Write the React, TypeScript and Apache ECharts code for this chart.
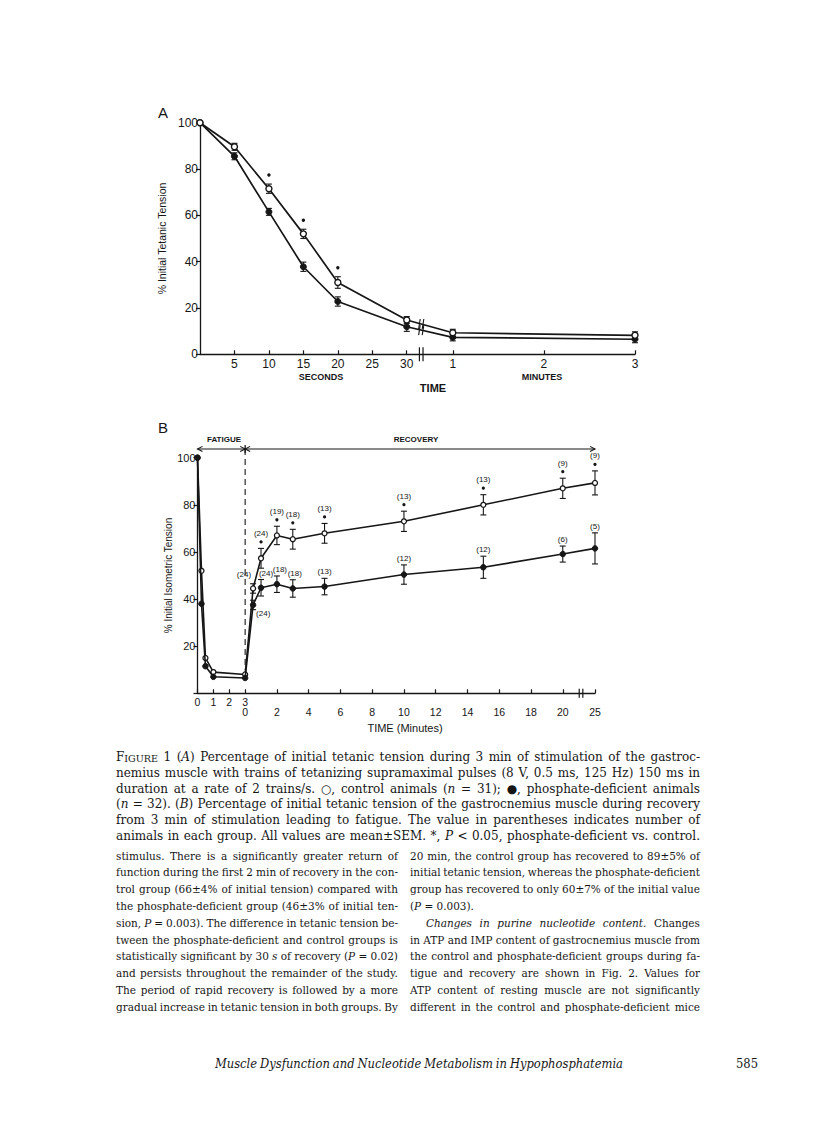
import React, { useEffect, useRef } from 'react';
import * as echarts from 'echarts';

// ---------------- DATA ----------------
// Panel A: time in seconds
const A_TIMES_S = [0, 5, 10, 15, 20, 30, 60, 180];
const A_CONTROL = [100, 89.6, 71.5, 52, 31, 14.8, 9.3, 8.2];
const A_CONTROL_SEM = [0, 1.5, 2, 2, 2.5, 1.5, 1.5, 1.5];
const A_DEFICIENT = [100, 85.5, 61.5, 37.8, 22.8, 11.9, 7.3, 6.5];
const A_DEFICIENT_SEM = [0, 1.5, 1.5, 2, 2, 2, 1.5, 1.5];
const A_SIGNIFICANT = [0, 0, 1, 1, 1, 0, 0, 0];
const A_SEC_TICKS = [5, 10, 15, 20, 25, 30];
const A_MIN_TICKS = [1, 2, 3];

// Panel B: fatigue (minutes of stimulation) then recovery (minutes)
const B_FATIGUE_MIN = [0, 0.25, 0.5, 1, 3];
const B_FATIGUE_CONTROL = [100, 52, 15, 9, 8];
const B_FATIGUE_DEFICIENT = [100, 38, 11.5, 7, 6.5];
const B_RECOVERY_MIN = [0.5, 1, 2, 3, 5, 10, 15, 20, 25];
const B_RECOVERY_CONTROL = [44.5, 57.3, 67, 65.4, 67.9, 73, 80, 87, 89.3];
const B_RECOVERY_CONTROL_SEM = [2, 4.2, 3.9, 4.2, 4.2, 4.3, 4.3, 4.3, 5.1];
const B_RECOVERY_DEFICIENT = [37.5, 44.8, 46.3, 44.5, 45.3, 50.4, 53.5, 59.1, 61.5];
const B_RECOVERY_DEFICIENT_SEM = [2, 3.5, 3.5, 3.7, 3.5, 4.1, 4.7, 3.4, 6.6];
const B_N_CONTROL = [24, 24, 19, 18, 13, 13, 13, 9, 9];
const B_N_DEFICIENT = [24, 24, 18, 18, 13, 12, 12, 6, 5];
const B_SIGNIFICANT = [0, 1, 1, 1, 1, 1, 1, 1, 1];
const B_FATIGUE_TICKS = [0, 1, 2, 3];
const B_RECOVERY_TICKS = [0, 2, 4, 6, 8, 10, 12, 14, 16, 18, 20, 25];

// ---------------- TEXT ----------------
const CAPTION = [
  '^FIGURE 1 (_A_) Percentage of initial tetanic tension during 3 min of stimulation of the gastroc-',
  'nemius muscle with trains of tetanizing supramaximal pulses (8 V, 0.5 ms, 125 Hz) 150 ms in',
  'duration at a rate of 2 trains/s. ○, control animals (_n_ = 31); ●, phosphate-deficient animals',
  '(_n_ = 32). (_B_) Percentage of initial tetanic tension of the gastrocnemius muscle during recovery',
  'from 3 min of stimulation leading to fatigue. The value in parentheses indicates number of',
  'animals in each group. All values are mean±SEM. *, _P_ < 0.05, phosphate-deficient vs. control.',
];
const BODY_LEFT = [
  'stimulus. There is a significantly greater return of',
  'function during the first 2 min of recovery in the con-',
  'trol group (66±4% of initial tension) compared with',
  'the phosphate-deficient group (46±3% of initial ten-',
  'sion, _P_ = 0.003). The difference in tetanic tension be-',
  'tween the phosphate-deficient and control groups is',
  'statistically significant by 30 _s_ of recovery (_P_ = 0.02)',
  'and persists throughout the remainder of the study.',
  'The period of rapid recovery is followed by a more',
  'gradual increase in tetanic tension in both groups. By',
];
const BODY_RIGHT = [
  '20 min, the control group has recovered to 89±5% of',
  'initial tetanic tension, whereas the phosphate-deficient',
  'group has recovered to only 60±7% of the initial value',
  '(_P_ = 0.003).¶',
  '>_Changes in purine nucleotide content._ Changes',
  'in ATP and IMP content of gastrocnemius muscle from',
  'the control and phosphate-deficient groups during fa-',
  'tigue and recovery are shown in Fig. 2. Values for',
  'ATP content of resting muscle are not significantly',
  'different in the control and phosphate-deficient mice',
];
const FOOTER = '_Muscle Dysfunction and Nucleotide Metabolism in Hypophosphatemia_';
const PAGE_NO = '585';

// ---------------- LAYOUT ----------------
const INK = '#161616';
const SERIF = 'DejaVu Serif';
const SANS = 'Liberation Sans';

const A_FIRST_MIN = 36.68;
const A_UNITS_PER_MIN = 13.22;
const aX = (sec: number) => (sec <= 30 ? sec : A_FIRST_MIN + (sec / 60 - 1) * A_UNITS_PER_MIN);
const A_XMAX = aX(180);
const A_BREAK = 32.1;

const bRecX = (t: number) => (t <= 20 ? 3 + t : 23 + (t - 20) * 0.406);
const B_XMAX = bRecX(25);
const B_BREAK = 24.15;
const B_HEADER = 103.7;
const B_PLACE_CONTROL = ['left', 'top', 'top', 'top', 'top', 'top', 'top', 'top', 'top'];
const B_PLACE_DEFICIENT = ['belowRight', 'top', 'top', 'top', 'top', 'top', 'top', 'top', 'top'];
const B_DX_DEFICIENT = [0, 5, 3, 2, 0, 0, 0, 0, 0];

// ---------------- text layout helpers ----------------
let mctx: CanvasRenderingContext2D | null = null;
function tw(t: string, size: number, it: boolean) {
  if (!mctx) mctx = document.createElement('canvas').getContext('2d');
  mctx!.font = `${it ? 'italic ' : ''}${size}px "${SERIF}"`;
  return mctx!.measureText(t).width;
}
type Seg = { t: string; it: boolean; small: boolean };
function parseWord(w: string, st: { it: boolean }): Seg[] {
  let small = false;
  if (w.startsWith('^')) { small = true; w = w.slice(1); }
  const segs: Seg[] = [];
  let cur = '';
  for (const ch of w) {
    if (ch === '_') {
      if (cur) segs.push({ t: cur, it: st.it, small: false });
      cur = '';
      st.it = !st.it;
    } else cur += ch;
  }
  if (cur) segs.push({ t: cur, it: st.it, small: false });
  if (small && segs.length) {
    const s = segs[0].t;
    return [{ t: s[0], it: false, small: false }, { t: s.slice(1), it: false, small: true }];
  }
  return segs;
}
// Lays out justified lines; glyphs are condensed horizontally (scaleX) when needed to fit the measure.
function layoutBlock(lines: string[], x0: number, x1: number, y0: number, dy: number, size: number, indent: number, minSpace = 0.8) {
  const parsed = lines.map((raw) => {
    let s = raw;
    let ragged = false;
    let ind = 0;
    if (s.endsWith('¶')) { ragged = true; s = s.slice(0, -1); }
    if (s.startsWith('>')) { ind = indent; s = s.slice(1); }
    const st = { it: false };
    const words = s.split(' ').filter((w) => w).map((w) => parseWord(w, st));
    return { words, ragged, ind };
  });
  const segSize = (g: Seg) => (g.small ? size * 0.8 : size);
  const wordW = (w: Seg[]) => w.reduce((a, g) => a + tw(g.t, segSize(g), g.it), 0);
  const sw = tw(' ', size, false);
  let maxRatio = 0;
  for (const L of parsed) {
    if (L.ragged) continue;
    const nat = L.words.reduce((a, w) => a + wordW(w), 0) + sw * minSpace * (L.words.length - 1);
    maxRatio = Math.max(maxRatio, nat / (x1 - x0 - L.ind));
  }
  const sx = maxRatio > 1 ? 1 / maxRatio : 1;
  const els: any[] = [];
  parsed.forEach((L, li) => {
    const y = y0 + li * dy;
    const widths = L.words.map((w) => wordW(w) * sx);
    const total = widths.reduce((a, b) => a + b, 0);
    const avail = x1 - x0 - L.ind;
    const gap = !L.ragged && L.words.length > 1 ? (avail - total) / (L.words.length - 1) : sw * sx;
    let x = x0 + L.ind;
    L.words.forEach((w, wi) => {
      let px = x;
      w.forEach((g) => {
        const fs = segSize(g);
        els.push({
          type: 'text', x: px, y: y + size * 0.5, scaleX: sx, silent: true,
          style: {
            text: g.t, fontFamily: SERIF, fontSize: fs, fontStyle: g.it ? 'italic' : 'normal', fill: INK,
            align: 'left', verticalAlign: 'bottom', textAlign: 'left', textVerticalAlign: 'bottom',
          },
        });
        px += tw(g.t, fs, g.it) * sx;
      });
      x += widths[wi] + gap;
    });
  });
  return { els, sx };
}

// ---------------- chart render helpers ----------------
const stroke = (w = 1.1) => ({ stroke: INK, lineWidth: w, fill: 'none' });

function errRender(_p: any, api: any) {
  const x = api.value(0), y = api.value(1), e = api.value(2);
  if (!e) return { type: 'group', children: [] };
  const p1 = api.coord([x, y + e]);
  const p2 = api.coord([x, y - e]);
  const w = 3;
  return {
    type: 'group',
    children: [
      { type: 'line', shape: { x1: p1[0], y1: p1[1], x2: p2[0], y2: p2[1] }, style: stroke(1.1) },
      { type: 'line', shape: { x1: p1[0] - w, y1: p1[1], x2: p1[0] + w, y2: p1[1] }, style: stroke(1.1) },
      { type: 'line', shape: { x1: p2[0] - w, y1: p2[1], x2: p2[0] + w, y2: p2[1] }, style: stroke(1.1) },
    ],
  };
}

function starARender(_p: any, api: any) {
  const x = api.value(0), y = api.value(1), e = api.value(2);
  const p = api.coord([x, y + e]);
  return { type: 'circle', shape: { cx: p[0], cy: p[1] - 9, r: 1.7 }, style: { fill: INK } };
}

function breakARender(_p: any, api: any) {
  const ch: any[] = [];
  const pa = api.coord([A_BREAK, 0]);
  [-1.8, 1.8].forEach((d) =>
    ch.push({ type: 'line', shape: { x1: pa[0] + d, y1: pa[1] - 7, x2: pa[0] + d, y2: pa[1] + 7 }, style: stroke(1.2) }),
  );
  const j = A_TIMES_S.findIndex((s) => s > 30);
  const xa = aX(A_TIMES_S[j - 1]), xb = aX(A_TIMES_S[j]);
  const f = (A_BREAK - xa) / (xb - xa);
  [A_CONTROL, A_DEFICIENT].forEach((vals) => {
    const yv = vals[j - 1] + f * (vals[j] - vals[j - 1]);
    const p = api.coord([A_BREAK, yv]);
    [-1.8, 1.8].forEach((d) =>
      ch.push({ type: 'line', shape: { x1: p[0] + d - 0.8, y1: p[1] + 5, x2: p[0] + d + 0.8, y2: p[1] - 5 }, style: stroke(1.1) }),
    );
  });
  return { type: 'group', children: ch };
}

function labelBRender(_p: any, api: any) {
  const x = api.value(0), y = api.value(1), e = api.value(2), n = api.value(3), sig = api.value(4), grp = api.value(5), idx = api.value(6);
  const pt = api.coord([x, y]);
  const top = api.coord([x, y + e]);
  const place = grp === 0 ? B_PLACE_CONTROL[idx] : B_PLACE_DEFICIENT[idx];
  const dx = grp === 0 ? 0 : B_DX_DEFICIENT[idx];
  const ch: any[] = [];
  const txt = (tx: number, ty: number, align: string) => ({
    type: 'text', x: tx, y: ty,
    style: { text: `(${n})`, fontFamily: SANS, fontSize: 8, fill: INK, align, verticalAlign: 'middle', textAlign: align, textVerticalAlign: 'middle' },
  });
  if (place === 'left') ch.push(txt(pt[0] - 2, pt[1] - 14, 'right'));
  else if (place === 'belowRight') ch.push(txt(pt[0] + 3, pt[1] + 9, 'left'));
  else {
    let ly = top[1] - 6.5;
    if (sig) {
      ch.push({ type: 'circle', shape: { cx: top[0], cy: top[1] - 6.5, r: 1.6 }, style: { fill: INK } });
      ly = top[1] - 15;
    }
    ch.push(txt(top[0] + dx, ly, 'center'));
  }
  return { type: 'group', children: ch };
}

function headerBRender(_p: any, api: any) {
  const a = api.coord([0, B_HEADER]);
  const m = api.coord([bRecX(0), B_HEADER]);
  const e = api.coord([bRecX(B_RECOVERY_MIN[B_RECOVERY_MIN.length - 1]), B_HEADER]);
  const bot = api.coord([bRecX(0), B_FATIGUE_CONTROL[B_FATIGUE_CONTROL.length - 1] + 2]);
  const head = (p: number[], dir: number) => ({
    type: 'polyline', shape: { points: [[p[0] - dir * 5, p[1] - 2.6], [p[0], p[1]], [p[0] - dir * 5, p[1] + 2.6]] }, style: stroke(1.1),
  });
  const pa = api.coord([B_BREAK, 0]);
  return {
    type: 'group',
    children: [
      { type: 'line', shape: { x1: a[0], y1: a[1], x2: e[0], y2: e[1] }, style: stroke(1.1) },
      head(a, -1), head(m, 1), head(m, -1), head(e, 1),
      { type: 'line', shape: { x1: m[0], y1: m[1] - 4, x2: m[0], y2: m[1] + 4 }, style: stroke(1.3) },
      { type: 'line', shape: { x1: m[0], y1: m[1], x2: bot[0], y2: bot[1] }, style: { stroke: INK, lineWidth: 1.1, lineDash: [6, 4] } },
      { type: 'line', shape: { x1: pa[0] - 1.8, y1: pa[1] - 4.5, x2: pa[0] - 1.8, y2: pa[1] + 4.5 }, style: stroke(1.2) },
      { type: 'line', shape: { x1: pa[0] + 1.8, y1: pa[1] - 4.5, x2: pa[0] + 1.8, y2: pa[1] + 4.5 }, style: stroke(1.2) },
    ],
  };
}

function labelFormatter(vals: number[], labels: string[]) {
  return (v: number) => {
    const i = vals.findIndex((u) => Math.abs(u - v) < 1e-6);
    return i >= 0 ? labels[i] : '';
  };
}

function buildOption() {
  const aTickVals = [...A_SEC_TICKS.map((s) => aX(s)), ...A_MIN_TICKS.map((m) => aX(m * 60))];
  const aTickLabels = [...A_SEC_TICKS.map(String), ...A_MIN_TICKS.map(String)];
  const bFatVals = B_FATIGUE_TICKS.slice();
  const bRecVals = B_RECOVERY_TICKS.map(bRecX);
  const bAllTicks = [...bFatVals, ...bRecVals.slice(1)];

  const aCtrl = A_TIMES_S.map((s, i) => [aX(s), A_CONTROL[i]]);
  const aDef = A_TIMES_S.map((s, i) => [aX(s), A_DEFICIENT[i]]);
  const aErr = [
    ...A_TIMES_S.map((s, i) => [aX(s), A_CONTROL[i], A_CONTROL_SEM[i]]),
    ...A_TIMES_S.map((s, i) => [aX(s), A_DEFICIENT[i], A_DEFICIENT_SEM[i]]),
  ];
  const aStars = A_TIMES_S.map((s, i) => [aX(s), A_CONTROL[i], A_CONTROL_SEM[i], A_SIGNIFICANT[i]]).filter((r) => r[3]);

  const bCtrl = [
    ...B_FATIGUE_MIN.map((m, i) => [m, B_FATIGUE_CONTROL[i]]),
    ...B_RECOVERY_MIN.map((t, i) => [bRecX(t), B_RECOVERY_CONTROL[i]]),
  ];
  const bDef = [
    ...B_FATIGUE_MIN.map((m, i) => [m, B_FATIGUE_DEFICIENT[i]]),
    ...B_RECOVERY_MIN.map((t, i) => [bRecX(t), B_RECOVERY_DEFICIENT[i]]),
  ];
  const bErr = [
    ...B_RECOVERY_MIN.map((t, i) => [bRecX(t), B_RECOVERY_CONTROL[i], B_RECOVERY_CONTROL_SEM[i]]),
    ...B_RECOVERY_MIN.map((t, i) => [bRecX(t), B_RECOVERY_DEFICIENT[i], B_RECOVERY_DEFICIENT_SEM[i]]),
  ];
  const bLabels = [
    ...B_RECOVERY_MIN.map((t, i) => [bRecX(t), B_RECOVERY_CONTROL[i], B_RECOVERY_CONTROL_SEM[i], B_N_CONTROL[i], B_SIGNIFICANT[i], 0, i]),
    ...B_RECOVERY_MIN.map((t, i) => [bRecX(t), B_RECOVERY_DEFICIENT[i], B_RECOVERY_DEFICIENT_SEM[i], B_N_DEFICIENT[i], 0, 1, i]),
  ];

  const tickLabelStyle = (fs: number) => ({ color: INK, fontFamily: SANS, fontSize: fs });

  // text blocks
  const cap = layoutBlock(CAPTION, 116, 700, 757, 15.8, 12, 0);
  const bl = layoutBlock(BODY_LEFT, 116, 398, 856, 16.8, 11.8, 0);
  const br = layoutBlock(BODY_RIGHT, 410, 700, 856, 16.8, 11.8, 16);
  const foot = layoutBlock([FOOTER], 215, 623, 1064, 0, 12.5, 0);

  const ann = (text: string, x: number, y: number, fs: number, weight = 'normal', align = 'center') => ({
    type: 'text', x, y, silent: true,
    style: { text, fontFamily: SANS, fontSize: fs, fontWeight: weight, fill: INK, align, verticalAlign: 'middle', textAlign: align, textVerticalAlign: 'middle' },
  });
  const inkItem = { color: INK };

  return {
    animation: false,
    backgroundColor: '#ffffff',
    color: [INK],
    textStyle: { fontFamily: SANS, color: INK },
    grid: [
      { left: 200, top: 122.7, width: 435, height: 231.6 },
      { left: 197.5, top: 457.7, width: 397.5, height: 235.6 },
    ],
    xAxis: [
      {
        gridIndex: 0, type: 'value', position: 'bottom', min: 0, max: A_XMAX, splitLine: { show: false },
        axisLine: { show: true, lineStyle: { color: INK, width: 1.3 } },
        axisTick: { show: true, inside: true, length: 4, customValues: aTickVals, lineStyle: { color: INK, width: 1.2 } },
        axisLabel: { customValues: aTickVals, formatter: labelFormatter(aTickVals, aTickLabels), margin: 4, ...tickLabelStyle(12) },
      },
      {
        gridIndex: 1, type: 'value', position: 'bottom', min: 0, max: B_XMAX, splitLine: { show: false },
        axisLine: { show: true, lineStyle: { color: INK, width: 1.3 } },
        axisTick: { show: true, inside: true, length: 4, customValues: bAllTicks, lineStyle: { color: INK, width: 1.2 } },
        axisLabel: { customValues: bFatVals, formatter: labelFormatter(bFatVals, B_FATIGUE_TICKS.map(String)), margin: 3, ...tickLabelStyle(10.5) },
      },
      {
        gridIndex: 1, type: 'value', position: 'bottom', offset: 0, min: 0, max: B_XMAX, splitLine: { show: false },
        axisLine: { show: false, onZero: false }, axisTick: { show: false },
        axisLabel: { customValues: bRecVals, formatter: labelFormatter(bRecVals, B_RECOVERY_TICKS.map(String)), margin: 13, ...tickLabelStyle(10.5) },
      },
    ],
    yAxis: [
      {
        gridIndex: 0, type: 'value', min: 0, max: 100, interval: 20, splitLine: { show: false },
        axisLine: { show: true, lineStyle: { color: INK, width: 1.3 } },
        axisTick: { show: true, length: 4, lineStyle: { color: INK, width: 1.2 } },
        axisLabel: { margin: 2, ...tickLabelStyle(12) },
        name: '% Initial Tetanic Tension', nameLocation: 'middle', nameGap: 30,
        nameTextStyle: { color: INK, fontFamily: SANS, fontSize: 10.5 },
      },
      {
        gridIndex: 1, type: 'value', min: 0, max: 100, interval: 20, splitLine: { show: false },
        axisLine: { show: true, lineStyle: { color: INK, width: 1.3 } },
        axisTick: { show: true, length: 4, lineStyle: { color: INK, width: 1.2 } },
        axisLabel: { margin: 2, formatter: (v: number) => (v === 0 ? '' : String(v)), ...tickLabelStyle(11) },
        name: '% Initial Isometric Tension', nameLocation: 'middle', nameGap: 21,
        nameTextStyle: { color: INK, fontFamily: SANS, fontSize: 10 },
      },
    ],
    series: [
      // Panel A
      { type: 'custom', xAxisIndex: 0, yAxisIndex: 0, data: aErr, renderItem: errRender, z: 2, silent: true, itemStyle: inkItem },
      {
        type: 'line', xAxisIndex: 0, yAxisIndex: 0, data: aDef, symbol: 'circle', symbolSize: 6, z: 3,
        lineStyle: { color: INK, width: 1.7 }, itemStyle: { color: INK, borderColor: INK, borderWidth: 1 },
      },
      {
        type: 'line', xAxisIndex: 0, yAxisIndex: 0, data: aCtrl, symbol: 'circle', symbolSize: 6, z: 4,
        lineStyle: { color: INK, width: 1.7 }, itemStyle: { color: '#ffffff', borderColor: INK, borderWidth: 1.4 },
      },
      { type: 'custom', xAxisIndex: 0, yAxisIndex: 0, data: aStars, renderItem: starARender, z: 5, silent: true, itemStyle: inkItem },
      { type: 'custom', xAxisIndex: 0, yAxisIndex: 0, data: [[0, 0]], renderItem: breakARender, z: 5, silent: true, clip: false, itemStyle: inkItem },
      // Panel B
      { type: 'custom', xAxisIndex: 1, yAxisIndex: 1, data: bErr, renderItem: errRender, z: 2, silent: true, itemStyle: inkItem },
      {
        type: 'line', xAxisIndex: 1, yAxisIndex: 1, data: bCtrl, symbol: 'circle', symbolSize: 5, z: 3,
        lineStyle: { color: INK, width: 1.6 }, itemStyle: { color: '#ffffff', borderColor: INK, borderWidth: 1.3 },
      },
      {
        type: 'line', xAxisIndex: 1, yAxisIndex: 1, data: bDef, symbol: 'circle', symbolSize: 5.5, z: 4,
        lineStyle: { color: INK, width: 1.6 }, itemStyle: { color: INK, borderColor: INK, borderWidth: 1 },
      },
      { type: 'custom', xAxisIndex: 1, yAxisIndex: 1, data: bLabels, renderItem: labelBRender, z: 5, silent: true, clip: false, itemStyle: inkItem },
      { type: 'custom', xAxisIndex: 1, yAxisIndex: 1, data: [[0, 0]], renderItem: headerBRender, z: 5, silent: true, clip: false, itemStyle: inkItem },
    ],
    graphic: [
      ann('A', 163, 112, 15),
      ann('SECONDS', 321, 377, 9, 'bold'),
      ann('MINUTES', 542, 377, 9, 'bold'),
      ann('TIME', 433, 388, 11, 'bold'),
      ann('B', 163, 427, 15),
      ann('FATIGUE', 224, 439, 8, 'bold'),
      ann('RECOVERY', 416, 439, 8, 'bold'),
      ann('TIME (Minutes)', 405, 728, 11),
      ...cap.els,
      ...bl.els,
      ...br.els,
      ...foot.els,
      {
        type: 'text', x: 758, y: 1064 + 12.5 * 0.5, scaleX: foot.sx, silent: true,
        style: { text: PAGE_NO, fontFamily: SERIF, fontSize: 12.5, fill: INK, align: 'right', verticalAlign: 'bottom', textAlign: 'right', textVerticalAlign: 'bottom' },
      },
    ],
  };
}

export default function App() {
  const ref = useRef<HTMLDivElement>(null);
  useEffect(() => {
    const chart = echarts.init(ref.current!, null, { renderer: 'svg' });
    chart.setOption(buildOption() as any);
    return () => chart.dispose();
  }, []);
  return (
    <div
      ref={ref}
      style={{ position: 'absolute', left: 0, top: 0, width: 816, height: 1135, background: '#ffffff' }}
    />
  );
}
